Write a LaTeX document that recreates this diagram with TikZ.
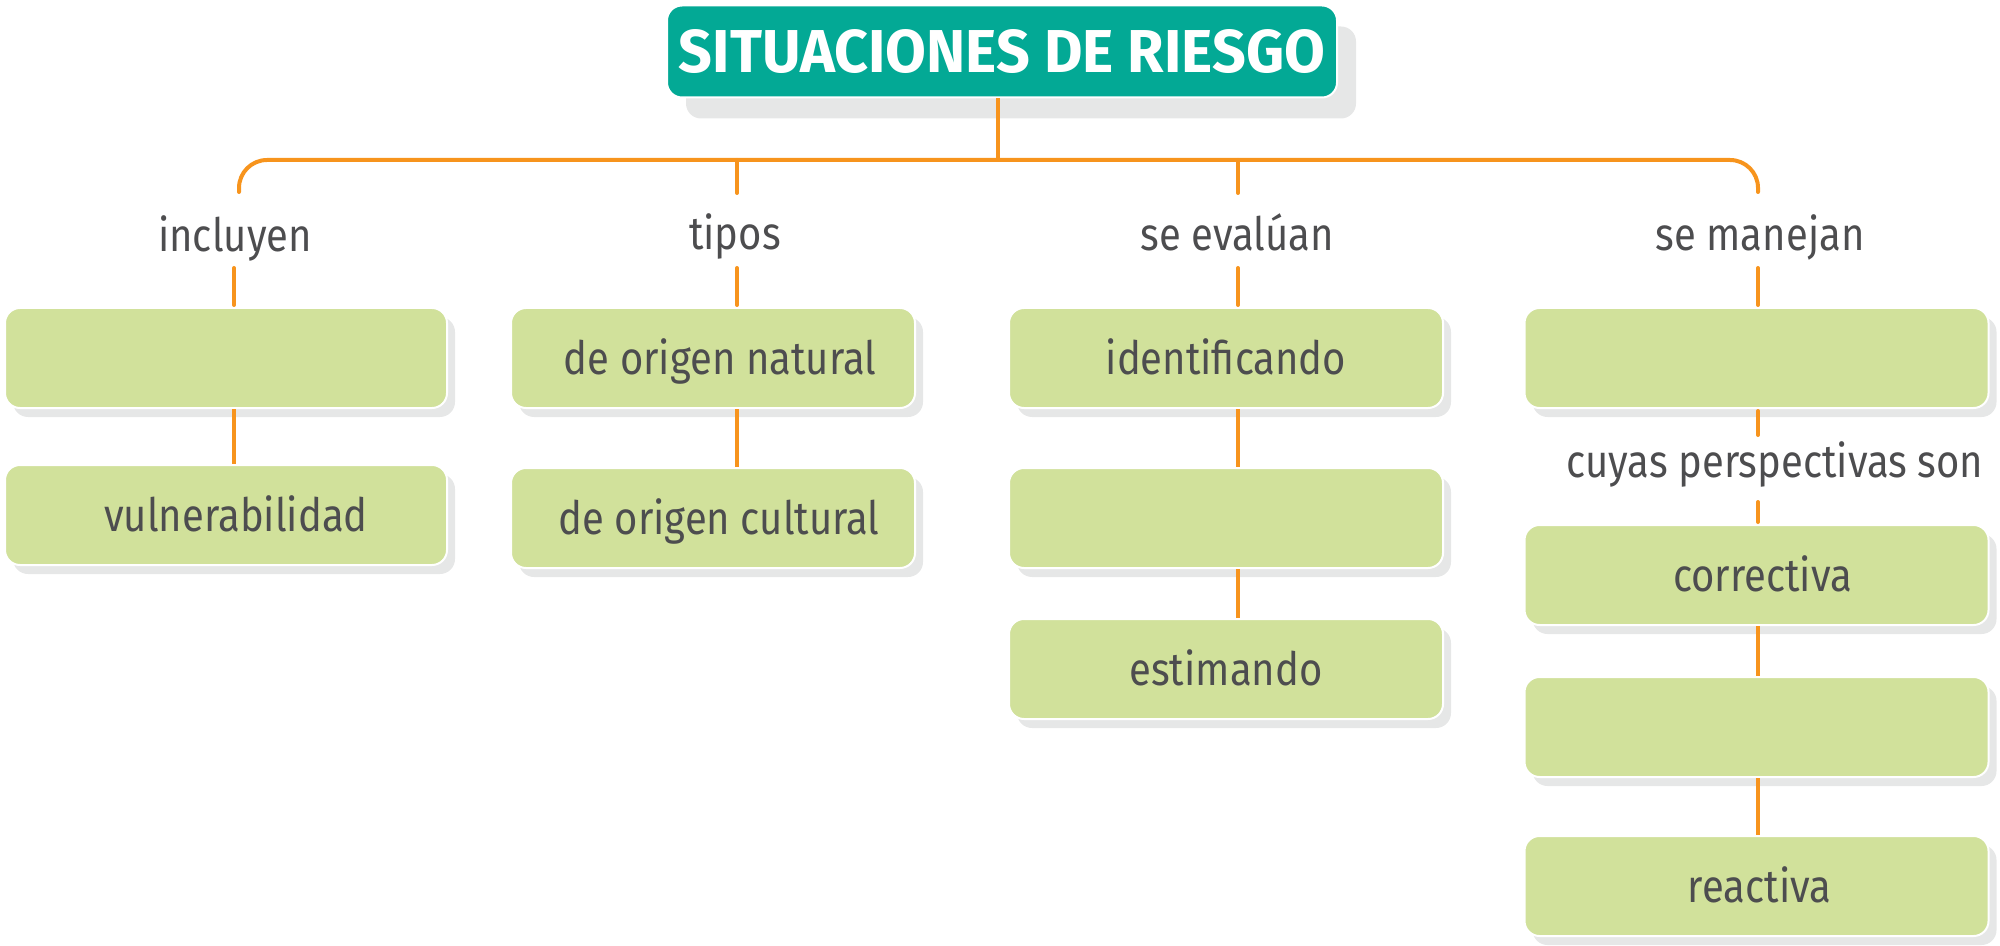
\documentclass[tikz,border=0pt]{standalone}
\usepackage{fontspec}
\setmainfont{Fira Sans}[FakeStretch=0.87]
\usetikzlibrary{shadows}
\definecolor{orng}{HTML}{F7941D}
\definecolor{grn}{HTML}{D1E19B}
\definecolor{shd}{HTML}{E6E7E7}
\definecolor{titlegreen}{HTML}{03A995}
\definecolor{txt}{HTML}{4D4D4F}
\begin{document}
\begin{tikzpicture}[x=0.5pt,y=-0.5pt,
  gbox/.style={rounded corners=7.5pt, fill=grn, draw=white, line width=1pt,
    inner sep=0pt, minimum height=50pt, text height=16pt, text depth=0pt,
    font=\fontsize{23pt}{27pt}\selectfont, text=txt,
    drop shadow={shadow xshift=4pt, shadow yshift=-4.5pt, fill=shd, opacity=1}},
  tbox/.style={rounded corners=7.5pt, fill=titlegreen, draw=white, line width=1pt,
    inner sep=0pt, minimum width=335pt, minimum height=46pt, text=white,
    drop shadow={shadow xshift=9.5pt, shadow yshift=-10.5pt, fill=shd, opacity=1}},
  lbl/.style={anchor=base, inner sep=0pt, font=\fontsize{23pt}{27pt}\selectfont, text=txt},
  conn/.style={draw=orng, line width=2pt},
  rconn/.style={conn, line cap=round}]
\useasboundingbox (0,0) rectangle (2000,946);

% title
\node[tbox] (title) at (1002,51.5) {\resizebox{323pt}{21.5pt}{\bfseries SITUACIONES DE RIESGO}};

% column 1
\node[gbox, minimum width=221pt] (b11) at (226,358) {};
\node[gbox, minimum width=221pt] (b12) at (226,515) {\hspace*{10pt}vulnerabilidad};
% column 2
\node[gbox, minimum width=202pt] (b21) at (713,358) {\hspace*{7pt}de origen natural};
\node[gbox, minimum width=202pt] (b22) at (713,518) {\hspace*{6pt}de origen cultural};
% column 3
\node[gbox, minimum width=217pt] (b31) at (1226,358) {identificando};
\node[gbox, minimum width=217pt] (b32) at (1226,518) {};
\node[gbox, minimum width=217pt] (b33) at (1226,669) {estimando};
% column 4
\node[gbox, minimum width=232pt] (b41) at (1756.5,358) {};
\node[gbox, minimum width=232pt] (b42) at (1756.5,575) {\hspace*{6pt}correctiva};
\node[gbox, minimum width=232pt] (b43) at (1756.5,727) {};
\node[gbox, minimum width=232pt] (b44) at (1756.5,886) {\hspace*{3pt}reactiva};

% labels
\node[lbl] (l1) at (235,252) {incluyen};
\node[lbl] (l2) at (735,250) {tipos};
\node[lbl] (l3) at (1237,251) {se evalúan};
\node[lbl] (l4) at (1760,251) {se manejan};
\node[lbl] (l5) at (1775,477) {cuyas perspectivas son};

% connector coordinates
\coordinate (j) at (998,160);
\coordinate (c1) at (239,192);
\coordinate (c4) at (1758,192);
\coordinate (t2) at (737,193);
\coordinate (t3) at (1238,193);
\coordinate (s1) at (234,268);
\coordinate (s2) at (737,268);
\coordinate (s3) at (1238,268);
\coordinate (s4) at (1758,268);
\coordinate (u1) at (1758,435);
\coordinate (u2) at (1758,502);

% main bracket
\draw[conn] (title.south -| j) -- (j);
\draw[rconn, rounded corners=14pt] (c1) |- (j) -| (c4);
\draw[rconn] (t2 |- j) -- (t2);
\draw[rconn] (t3 |- j) -- (t3);

% label stems
\draw[rconn, shorten >=1pt] (s1) -- (s1 |- b11.north);
\draw[rconn, shorten >=1pt] (s2) -- (s2 |- b21.north);
\draw[rconn, shorten >=1pt] (s3) -- (s3 |- b31.north);
\draw[rconn, shorten >=1pt] (s4) -- (s4 |- b41.north);

% between boxes
\draw[conn] (b11.south -| s1) -- (b12.north -| s1);
\draw[conn] (b21.south -| s2) -- (b22.north -| s2);
\draw[conn] (b31.south -| s3) -- (b32.north -| s3);
\draw[conn] (b32.south -| s3) -- (b33.north -| s3);
\draw[rconn, shorten <=1pt] (b41.south -| s4) -- (u1);
\draw[rconn, shorten >=1pt] (u2) -- (b42.north -| s4);
\draw[conn] (b42.south -| s4) -- (b43.north -| s4);
\draw[conn] (b43.south -| s4) -- (b44.north -| s4);
\end{tikzpicture}
\end{document}
